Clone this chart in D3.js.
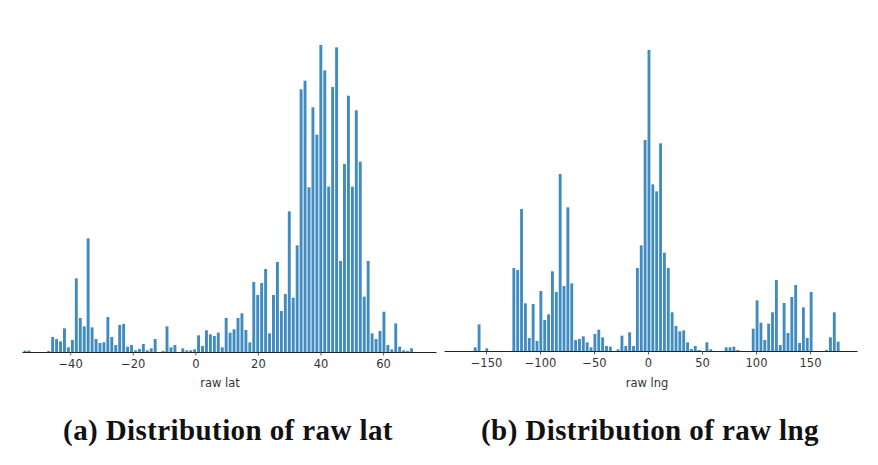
<!DOCTYPE html>
<html>
<head>
<meta charset="utf-8">
<script src="https://d3js.org/d3.v7.min.js"></script>
<style>
	html, body { margin: 0; padding: 0; background: #fff; }
	svg { display: block; }
	.tick text, .xlabel { font-family: "DejaVu Sans", sans-serif; font-size: 11.5px; fill: #333; }
	.caption { font-family: "Liberation Serif", serif; font-weight: bold; font-size: 29px; letter-spacing: 0.4px; fill: #111; }
</style>
</head>
<body>
<div id="chart"></div>
<script>
// histogram counts, in bin order (unit: arbitrary)
var latBinFirst = -54.4;
var latBinStep = 1.26;
var latCounts = [
	4, 4, 0, 0, 0, 0, 3, 45, 39, 32,
	71, 14, 36, 221, 102, 77, 341, 74, 39, 27,
	29, 105, 45, 21, 81, 84, 16, 21, 5, 9,
	24, 5, 11, 39, 0, 3, 77, 14, 21, 0,
	11, 5, 5, 8, 50, 18, 65, 53, 48, 58,
	14, 102, 58, 68, 102, 116, 66, 29, 210, 171,
	207, 249, 56, 171, 270, 123, 174, 422, 163, 320,
	788, 814, 494, 734, 652, 921, 845, 496, 795, 914,
	273, 564, 769, 496, 725, 571, 166, 273, 56, 39,
	63, 121, 21, 8, 86, 16, 5, 3, 11
];
var latTicks = [-40, -20, 0, 20, 40, 60];

var lngBinFirst = -160;
var lngBinStep = 3.575;
var lngCounts = [
	11, 80, 0, 8, 0, 0, 0, 0, 0, 0,
	249, 243, 426, 143, 39, 141, 30, 180, 93, 110,
	239, 177, 531, 195, 431, 203, 33, 36, 44, 26,
	11, 51, 64, 41, 15, 13, 0, 5, 46, 15,
	56, 15, 249, 317, 633, 903, 500, 479, 623, 295,
	249, 116, 75, 59, 62, 26, 6, 15, 3, 0,
	26, 5, 0, 0, 0, 11, 11, 13, 3, 0,
	0, 0, 67, 152, 85, 33, 82, 116, 213, 18,
	144, 54, 162, 198, 24, 131, 39, 177, 0, 0,
	0, 3, 41, 116, 28
];
var lngTicks = [-150, -100, -50, 0, 50, 100, 150];

var width = 878;
var height = 465;

var svg = d3.select('#chart').append('svg')
	.attr('width', width)
	.attr('height', height);

drawHist({
	counts: latCounts, first: latBinFirst, step: latBinStep, ticks: latTicks,
	xDomain: [-55.37, 76.9], xRange: [22, 436], yMax: 921, yRange: [352, 45],
	label: 'raw lat', labelX: 220, caption: '(a) Distribution of raw lat', captionX: 228
});

drawHist({
	counts: lngCounts, first: lngBinFirst, step: lngBinStep, ticks: lngTicks,
	xDomain: [-188.9, 193.5], xRange: [444, 857], yMax: 903, yRange: [351, 50],
	label: 'raw lng', labelX: 647, caption: '(b) Distribution of raw lng', captionX: 650
});

function drawHist(opt){
	var x = d3.scaleLinear().domain(opt.xDomain).range(opt.xRange);
	var y = d3.scaleLinear().domain([0, opt.yMax]).range(opt.yRange);
	var barW = Math.abs(x(opt.step) - x(0)) * 0.74;

	var g = svg.append('g');

	g.selectAll('rect')
		.data(opt.counts)
		.enter().append('rect')
		.attr('x', function(d, i){ return x(opt.first + i * opt.step) - barW / 2; })
		.attr('y', function(d){ return y(d); })
		.attr('width', barW)
		.attr('height', function(d){ return y(0) - y(d); })
		.attr('fill', '#1f77b4')
		.attr('fill-opacity', 0.85);

	var axis = d3.axisBottom(x)
		.tickValues(opt.ticks)
		.tickSizeInner(3.5)
		.tickSizeOuter(0)
		.tickPadding(4.5)
		.tickFormat(function(d){ return d < 0 ? '\u2212' + (-d) : '' + d; });

	var ax = g.append('g')
		.attr('transform', 'translate(0,' + opt.yRange[0] + ')')
		.call(axis);
	ax.select('.domain').attr('stroke', '#222').attr('stroke-width', 1.1);
	ax.selectAll('.tick line').attr('stroke', '#333').attr('stroke-width', 0.8);
	ax.attr('font-family', null).attr('font-size', null);

	g.append('text')
		.attr('class', 'xlabel')
		.attr('x', opt.labelX)
		.attr('y', 387)
		.attr('text-anchor', 'middle')
		.text(opt.label);

	g.append('text')
		.attr('class', 'caption')
		.attr('x', opt.captionX)
		.attr('y', 440)
		.attr('text-anchor', 'middle')
		.text(opt.caption);
}
</script>
</body>
</html>
